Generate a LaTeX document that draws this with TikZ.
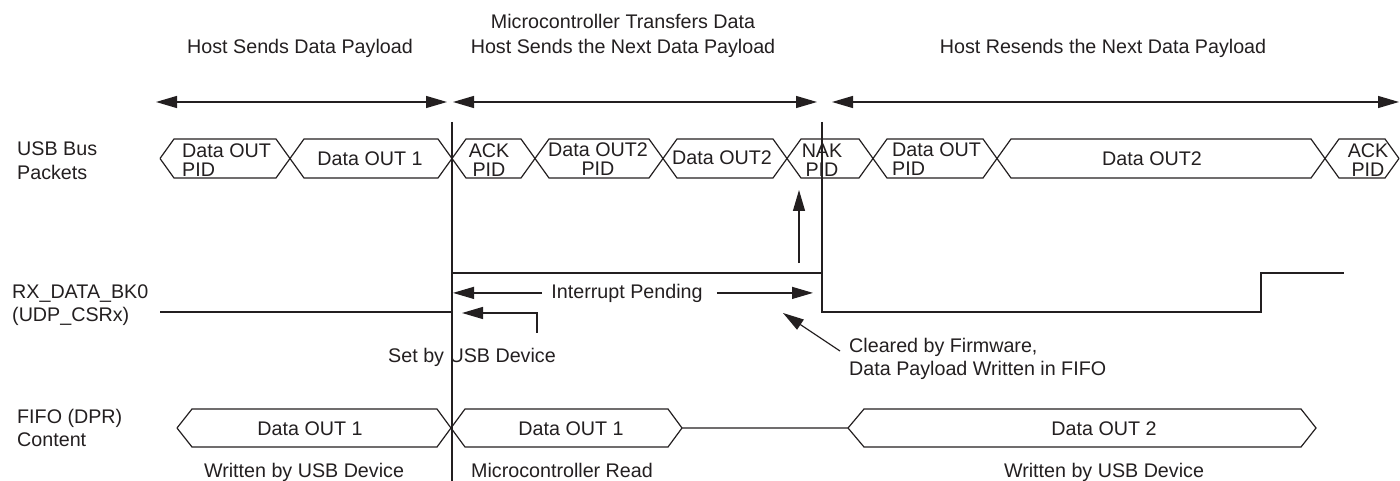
\documentclass[tikz,border=0pt]{standalone}
\usepackage{fontspec}
\setmainfont{Liberation Sans}
\usetikzlibrary{arrows.meta}
\definecolor{ink}{RGB}{35,31,32}
\newcommand{\twol}[3][c]{\begin{tabular}[t]{@{}#1@{}}#2\\#3\end{tabular}}
\begin{document}
\begin{tikzpicture}[x=1pt,y=-1pt,
  >={Triangle[length=21pt,width=12pt]},
  wire/.style={draw=ink,line width=1.2pt},
  dim/.style={draw=ink,line width=1.3pt,<->},
  lbl/.style={text=ink,inner sep=0pt,font=\fontsize{19.7}{23.5}\selectfont},
  pkt/.style={text=ink,inner sep=0pt,font=\fontsize{19.7}{17.5}\selectfont},
]
\useasboundingbox (0,0) rectangle (1400,481);

% ---- top phase labels
\node[lbl,anchor=base] (t1) at (300,54) {Host Sends Data Payload};
\node[lbl,anchor=base,font=\fontsize{19.7}{25}\selectfont] (t2) at (623,29)
  {\twol{Microcontroller Transfers Data}{Host Sends the Next Data Payload}};
\node[lbl,anchor=base] (t3) at (1103,54) {Host Resends the Next Data Payload};

% ---- phase dimension arrows
\coordinate (d1a) at (156,102); \coordinate (d1b) at (447,102);
\coordinate (d2a) at (453,102); \coordinate (d2b) at (817,102);
\coordinate (d3a) at (832,102); \coordinate (d3b) at (1399,102);
\draw[dim] (d1a) -- (d1b);
\draw[dim] (d2a) -- (d2b);
\draw[dim] (d3a) -- (d3b);

% ---- vertical markers
\coordinate (v1t) at (452,122); \coordinate (v1b) at (452,481);
\coordinate (v2t) at (822,122); \coordinate (v2b) at (822,273);
\draw[wire] (v1t) -- (v1b);
\draw[wire] (v2t) -- (v2b);

% ---- left row labels
\node[lbl,anchor=base west] (l1) at (17,156) {\twol[l]{USB Bus}{Packets}};
\node[lbl,anchor=base west] (l2) at (12,298) {\twol[l]{RX\_DATA\_BK0}{(UDP\_CSRx)}};
\node[lbl,anchor=base west] (l3) at (17,423) {\twol[l]{FIFO (DPR)}{Content}};

% ---- USB bus packets
\draw[wire] (160,158.5)--(174,139)--(276,139)--(304,178)--(438,178)--(466,139)--(521,139)--(549,178)--(649,178)--(677,139)--(773,139)--(801,178)--(859,178)--(887,139)--(983,139)--(1011,178)--(1311,178)--(1339,139)--(1385,139)--(1399,158.5);
\draw[wire] (160,158.5)--(174,178)--(276,178)--(304,139)--(438,139)--(466,178)--(521,178)--(549,139)--(649,139)--(677,178)--(773,178)--(801,139)--(859,139)--(887,178)--(983,178)--(1011,139)--(1311,139)--(1339,178)--(1385,178)--(1399,158.5);

\node[pkt,anchor=base west] (p1) at (182,158) {\twol[l]{Data OUT}{PID}};
\node[pkt,anchor=base] (p2) at (370,166) {Data OUT 1};
\node[pkt,anchor=base] (p3) at (489,158) {\twol{ACK}{PID}};
\node[pkt,anchor=base] (p4) at (598,157) {\twol{Data OUT2}{PID}};
\node[pkt,anchor=base] (p5) at (722,165) {Data OUT2};
\node[pkt,anchor=base] (p6) at (822,158) {\twol{NAK}{PID}};
\node[pkt,anchor=base west] (p7) at (892,157) {\twol[l]{Data OUT}{PID}};
\node[pkt,anchor=base] (p8) at (1152,166) {Data OUT2};
\node[pkt,anchor=base] (p9) at (1368,158) {\twol{ACK}{PID}};

% ---- upward arrow to NAK
\coordinate (ua) at (799,263); \coordinate (ub) at (799,190);
\draw[wire,->] (ua) -- (ub);

% ---- RX_DATA_BK0 waveform
\draw[wire] (160,312) -- (452,312) -- (452,273) -- (822,273) -- (822,312) -- (1261,312) -- (1261,273) -- (1344,273);

% ---- Interrupt pending
\node[lbl,anchor=base] (ip) at (627,298) {Interrupt Pending};
\coordinate (ipl) at (453,293); \coordinate (ipr) at (813,293);
\draw[wire,->] ([xshift=-9pt]ip.west) -- (ip.west -| ipl);
\draw[wire,->] ([xshift=14pt]ip.east) -- (ip.east -| ipr);

% ---- Set by USB Device
\node[lbl,anchor=base] (sb) at (472,362) {Set by USB Device};
\coordinate (sbt) at (462,313); \coordinate (sbc) at (537,313);
\draw[wire,->] ([yshift=15pt]sb.north -| sbc) -- (sbc) -- (sbt);

% ---- Cleared by firmware
\node[lbl,anchor=base west,font=\fontsize{19.7}{23}\selectfont] (cf) at (849,352)
  {\twol[l]{Cleared by Firmware,}{Data Payload Written in FIFO}};
\coordinate (cfs) at (840,351); \coordinate (cft) at (783,313);
\draw[wire,->] (cfs) -- (cft);

% ---- FIFO content
\draw[wire] (177,428)--(192,409)--(437,409)--(465,447)--(668,447)--(682,428)--(848,428)--(864,409)--(1301,409)--(1316,428)--(1301,447)--(864,447)--(848,428);
\draw[wire] (177,428)--(192,447)--(437,447)--(465,409)--(668,409)--(682,428);

\node[pkt,anchor=base] (f1) at (310,435) {Data OUT 1};
\node[pkt,anchor=base] (f2) at (571,435) {Data OUT 1};
\node[pkt,anchor=base] (f3) at (1104,435) {Data OUT 2};
\node[lbl,anchor=base] (w1) at (304,477) {Written by USB Device};
\node[lbl,anchor=base] (w2) at (562,477) {Microcontroller Read};
\node[lbl,anchor=base] (w3) at (1104,477) {Written by USB Device};
\end{tikzpicture}
\end{document}
